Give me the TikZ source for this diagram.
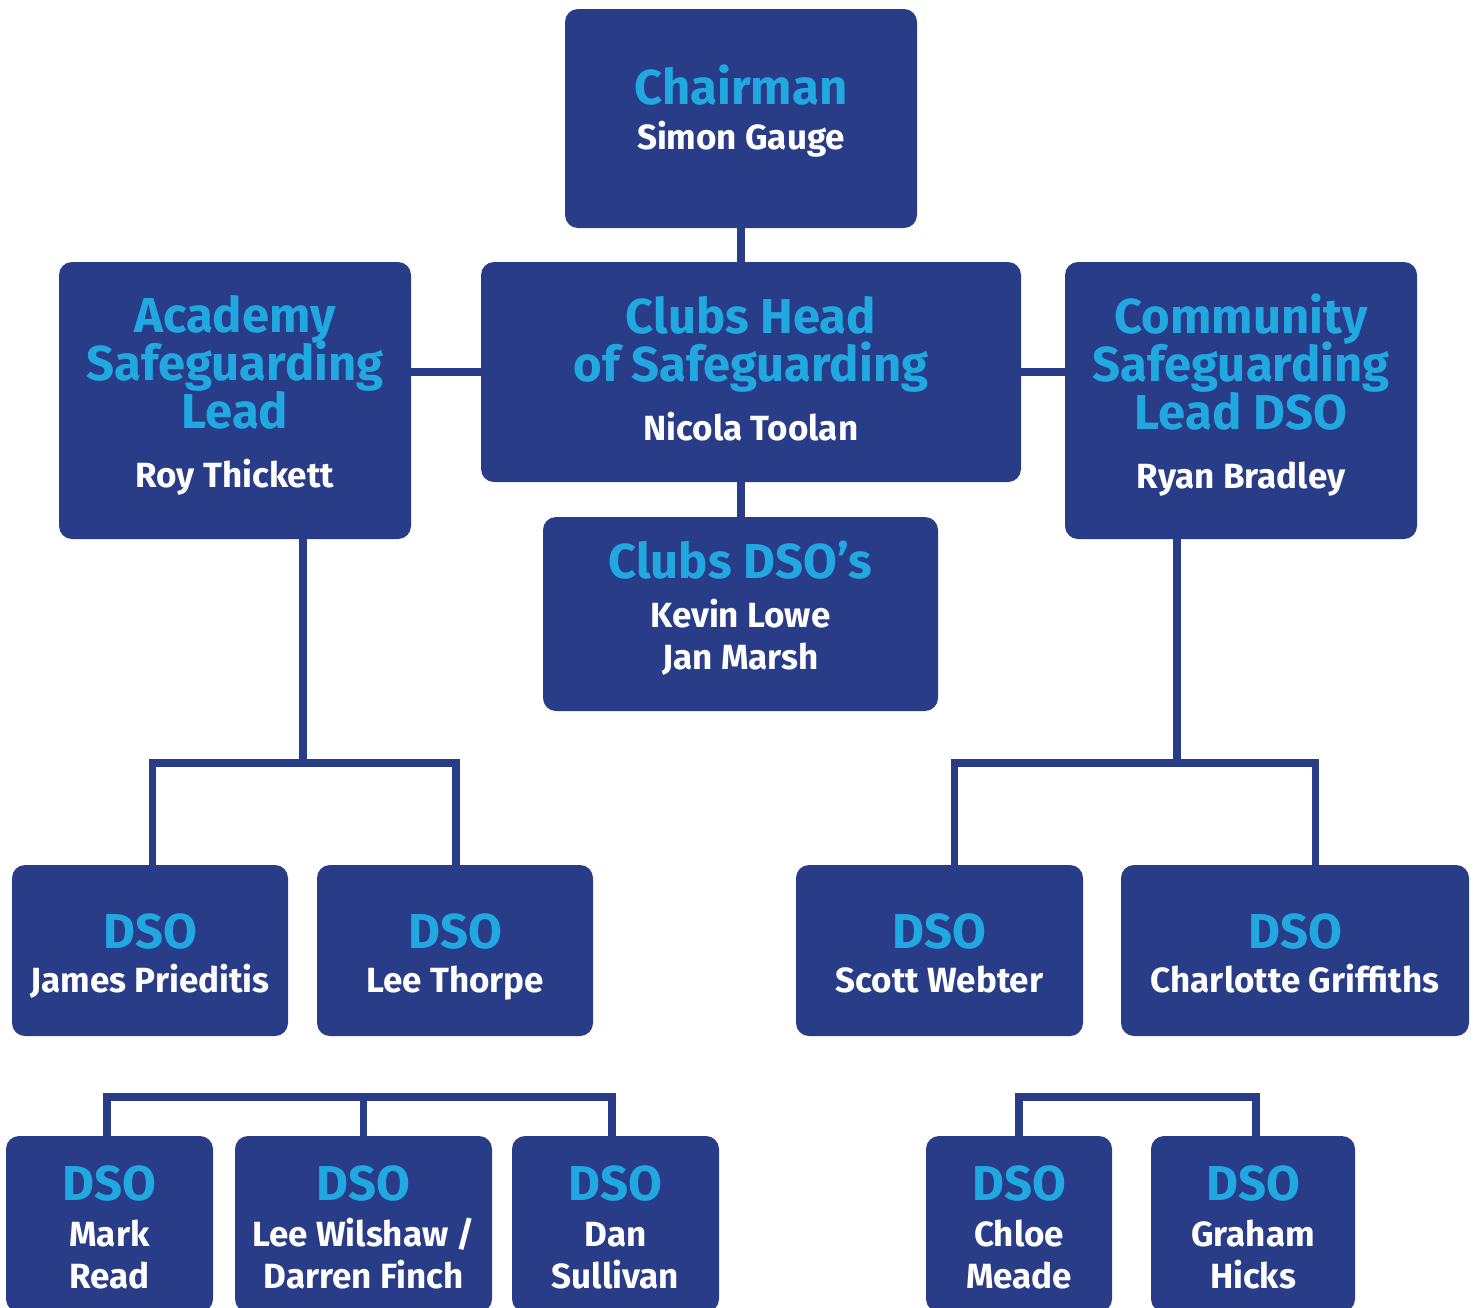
\documentclass[tikz,border=0pt]{standalone}
\usepackage{fontspec}
\setmainfont{Fira Sans}
\usetikzlibrary{positioning}

\definecolor{navy}{RGB}{40,60,135}
\definecolor{sky}{RGB}{34,168,224}

\tikzset{
  post/.style={fill=navy, rounded corners=13pt, inner sep=0pt, align=center, text=white,
    font={\bfseries\fontsize{35}{44}\selectfont\lineskiplimit=-100pt}},
  link/.style={draw=navy, line width=7.5pt},
}
\newcommand{\role}[1]{{\color{sky}\fontsize{49}{48}\selectfont\vphantom{dg}#1}}
\newcommand{\who}[1]{\vphantom{dg}#1}

\begin{document}
\begin{tikzpicture}[x=1pt,y=-1pt]
        \useasboundingbox (0,0) rectangle (1478,1307);

        % the last \\[..] of each box only moves its text up or down
        \node[post, minimum width=352pt, minimum height=219pt] (chair) at (741,118.5) {\role{Chairman}\\[1pt]\who{Simon Gauge}\\[-21pt]};
        \node[post, minimum width=352pt, minimum height=277pt] (academy) at (235,400.5) {\role{Academy}\\[4pt]\role{Safeguarding}\\[4pt]\role{Lead}\\[15pt]\who{Roy Thickett}\\[-25pt]};
        \node[post, minimum width=540pt, minimum height=220pt] (head) at (751,372) {\role{Clubs Head}\\[4pt]\role{of Safeguarding}\\[15pt]\who{Nicola Toolan}};
        \node[post, minimum width=352pt, minimum height=277pt] (community) at (1241,400.5) {\role{Community}\\[4pt]\role{Safeguarding}\\[4pt]\role{Lead DSO}\\[15pt]\who{Ryan Bradley}\\[-25pt]};
        \node[post, minimum width=395pt, minimum height=194pt] (clubsdso) at (740.5,614) {\role{Clubs DSO’s}\\[5pt]Kevin Lowe\\[-2pt]\who{Jan Marsh}\\[-27pt]};

        \node[post, minimum width=276pt, minimum height=171pt] (james) at (150,950.5) {\role{DSO}\\\who{James Prieditis}\\[-46pt]};
        \node[post, minimum width=276pt, minimum height=171pt] (thorpe) at (455,950.5) {\role{DSO}\\\who{Lee Thorpe}\\[-46pt]};
        \node[post, minimum width=287pt, minimum height=171pt] (webter) at (939.5,950.5) {\role{DSO}\\\who{Scott Webter}\\[-46pt]};
        \node[post, minimum width=348pt, minimum height=171pt] (griffiths) at (1295,950.5) {\role{DSO}\\\who{Charlotte Griffiths}\\[-46pt]};

        \node[post, minimum width=207pt, minimum height=176pt] (read) at (109.5,1224) {\role{DSO}\\[2pt]Mark\\[-2pt]\who{Read}\\[-47pt]};
        \node[post, minimum width=257pt, minimum height=176pt] (wilshaw) at (363.5,1224) {\role{DSO}\\[2pt]Lee Wilshaw /\\[-2pt]\who{Darren Finch}\\[-47pt]};
        \node[post, minimum width=207pt, minimum height=176pt] (sullivan) at (615.5,1224) {\role{DSO}\\[2pt]Dan\\[-2pt]\who{Sullivan}\\[-47pt]};
        \node[post, minimum width=186pt, minimum height=176pt] (meade) at (1019,1224) {\role{DSO}\\[2pt]Chloe\\[-2pt]\who{Meade}\\[-47pt]};
        \node[post, minimum width=204pt, minimum height=176pt] (hicks) at (1253,1224) {\role{DSO}\\[2pt]Graham\\[-2pt]\who{Hicks}\\[-47pt]};

        \coordinate (abranch) at (303,763);
        \coordinate (cbranch) at (1177,763);
        \coordinate (lbar) at (364,1097);
        \coordinate (rbar) at (1137,1097);

        \draw[link] (chair.south) -- (chair.south |- head.north);
        \draw[link] (academy.east |- head.west) -- (head.west);
        \draw[link] (head.east) -- (head.east -| community.west);
        \draw[link] (head.south -| chair.south) -- (clubsdso.north -| chair.south);

        \draw[link] (academy.south -| abranch) -- (abranch);
        \draw[link] ([xshift=2.5pt]james.north) |- (abranch) -| ([xshift=1pt]thorpe.north);
        \draw[link] (community.south -| cbranch) -- (cbranch);
        \draw[link] ([xshift=15pt]webter.north) |- (cbranch) -| ([xshift=20.5pt]griffiths.north);

        \draw[link] ([xshift=-2.5pt]read.north) |- (lbar) -| ([xshift=-3.5pt]sullivan.north);
        \draw[link] (wilshaw.north) -- (wilshaw.north |- lbar);
        \draw[link] (meade.north) |- (rbar) -| ([xshift=3pt]hicks.north);
    \end{tikzpicture}
\end{document}
